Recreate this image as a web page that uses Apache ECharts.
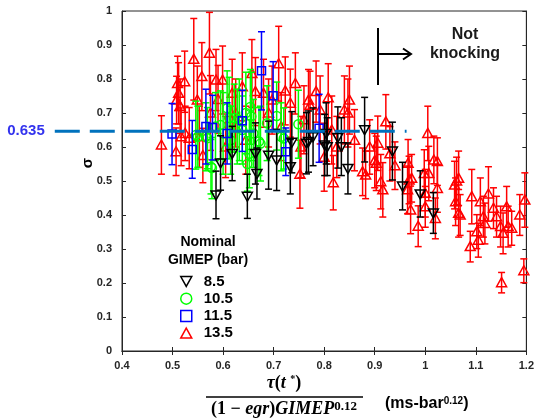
<!DOCTYPE html>
<html><head><meta charset="utf-8">
<script src="https://cdn.jsdelivr.net/npm/echarts@6/dist/echarts.min.js"></script>
<style>html,body{margin:0;padding:0;background:#fff}#c{width:537px;height:419px}</style>
</head><body><div id="c"></div>
<script>
// ---- data: [x, sigma, errorHalfWidth] ----
const xTicks = [0.4, 0.5, 0.6, 0.7, 0.8, 0.9, 1, 1.1, 1.2];
const yTicks = [0, 0.1, 0.2, 0.3, 0.4, 0.5, 0.6, 0.7, 0.8, 0.9, 1];
const seriesNames = ['8.5', '10.5', '11.5', '13.5'];
const meanLabel = '0.635';
const meanLineY = 0.646;
const meanLineX = [0.267, 0.963];

const black85 = [
 [0.586,0.459,0.07],[0.595,0.553,0.08],[0.618,0.581,0.08],[0.648,0.455,0.065],[0.664,0.581,0.09],
 [0.667,0.522,0.075],[0.69,0.576,0.1],[0.706,0.562,0.09],[0.733,0.542,0.08],[0.736,0.614,0.09],
 [0.765,0.611,0.09],[0.769,0.616,0.09],[0.778,0.63,0.085],[0.801,0.606,0.09],[0.804,0.64,0.09],
 [0.806,0.601,0.085],[0.827,0.628,0.09],[0.834,0.601,0.085],[0.847,0.537,0.075],[0.88,0.651,0.095],
 [0.935,0.588,0.085],[0.955,0.485,0.07],[0.99,0.462,0.068],[1.016,0.406,0.06]
];
const green105 = [
 [0.546,0.635,0.1],[0.55,0.63,0.09],[0.566,0.63,0.1],[0.569,0.626,0.09],[0.576,0.542,0.08],
 [0.578,0.538,0.09],[0.585,0.66,0.1],[0.595,0.665,0.1],[0.6,0.64,0.12],[0.608,0.714,0.11],
 [0.612,0.685,0.12],[0.615,0.62,0.1],[0.622,0.685,0.1],[0.628,0.66,0.11],[0.632,0.68,0.12],
 [0.638,0.65,0.1],[0.645,0.7,0.12],[0.648,0.55,0.08],[0.652,0.58,0.1],[0.654,0.718,0.11],
 [0.656,0.69,0.13],[0.66,0.64,0.1],[0.671,0.616,0.1],[0.674,0.61,0.11],[0.687,0.67,0.11],
 [0.706,0.691,0.1],[0.715,0.63,0.1],[0.72,0.625,0.09],[0.749,0.667,0.1]
];
const blue115 = [
 [0.499,0.638,0.09],[0.539,0.593,0.085],[0.566,0.66,0.11],[0.579,0.657,0.095],[0.608,0.64,0.09],
 [0.638,0.677,0.09],[0.676,0.824,0.115],[0.699,0.751,0.1],[0.724,0.586,0.07],[0.79,0.655,0.1]
];
const red135 = [
 [0.478,0.606,0.086],[0.507,0.586,0.07],[0.508,0.738,0.07],[0.51,0.787,0.08],[0.512,0.758,0.09],
 [0.515,0.72,0.08],[0.517,0.63,0.085],[0.524,0.792,0.09],[0.525,0.64,0.08],[0.533,0.626,0.09],
 [0.542,0.858,0.12],[0.549,0.738,0.1],[0.553,0.63,0.09],[0.558,0.807,0.1],[0.56,0.575,0.08],
 [0.573,0.876,0.12],[0.575,0.7,0.11],[0.586,0.797,0.09],[0.59,0.74,0.1],[0.599,0.797,0.1],
 [0.605,0.6,0.09],[0.618,0.758,0.1],[0.625,0.7,0.1],[0.638,0.777,0.1],[0.645,0.62,0.1],
 [0.657,0.816,0.1],[0.664,0.763,0.1],[0.68,0.758,0.1],[0.69,0.7,0.1],[0.697,0.738,0.1],
 [0.71,0.845,0.11],[0.715,0.66,0.1],[0.723,0.765,0.1],[0.733,0.729,0.1],[0.743,0.787,0.09],
 [0.752,0.52,0.1],[0.754,0.6,0.09],[0.76,0.68,0.1],[0.769,0.738,0.09],[0.772,0.723,0.1],
 [0.784,0.763,0.09],[0.792,0.709,0.1],[0.8,0.57,0.1],[0.808,0.745,0.1],[0.815,0.65,0.1],
 [0.818,0.495,0.08],[0.825,0.6,0.09],[0.84,0.709,0.1],[0.85,0.738,0.1],[0.847,0.7,0.1],
 [0.86,0.62,0.09],[0.876,0.527,0.07],[0.882,0.518,0.07],[0.89,0.6,0.08],[0.9,0.56,0.08],
 [0.903,0.552,0.08],[0.906,0.611,0.08],[0.912,0.498,0.08],[0.916,0.474,0.08],[0.922,0.674,0.08],
 [0.93,0.58,0.08],[0.94,0.545,0.07],[0.965,0.474,0.07],[0.966,0.552,0.07],[0.968,0.503,0.07],
 [0.971,0.415,0.07],[0.973,0.508,0.07],[0.986,0.367,0.06],[0.998,0.522,0.07],[1.0,0.464,0.07],
 [1.0,0.424,0.06],[1.005,0.64,0.08],[1.007,0.522,0.08],[1.017,0.562,0.07],[1.02,0.39,0.06],
 [1.024,0.557,0.07],[1.024,0.478,0.07],[1.058,0.488,0.07],[1.06,0.439,0.07],[1.062,0.5,0.07],
 [1.066,0.508,0.08],[1.066,0.405,0.07],[1.069,0.4,0.06],[1.089,0.307,0.045],[1.092,0.454,0.08],
 [1.102,0.351,0.05],[1.105,0.326,0.05],[1.109,0.439,0.07],[1.115,0.395,0.06],[1.118,0.375,0.06],
 [1.125,0.462,0.08],[1.135,0.42,0.06],[1.141,0.395,0.06],[1.149,0.366,0.06],[1.151,0.201,0.03],
 [1.154,0.346,0.06],[1.161,0.424,0.06],[1.164,0.366,0.06],[1.171,0.361,0.05],[1.187,0.4,0.06],
 [1.197,0.444,0.08],[1.195,0.236,0.035]
];

const FONT = 'Liberation Sans, Arial, sans-serif';
const AX = '#262626';

function makeRender(shape, color) {
  return function (params, api) {
    const x = api.value(0), y = api.value(1), e = api.value(2);
    const p = api.coord([x, y]);
    const lo = api.coord([x, y - e]);
    const hi = api.coord([x, y + e]);
    const cap = 3.5, lw = 1.5;
    const ls = { stroke: color, lineWidth: lw, fill: null };
    const ch = [
      { type: 'line', shape: { x1: lo[0], y1: lo[1], x2: hi[0], y2: hi[1] }, style: ls },
      { type: 'line', shape: { x1: lo[0] - cap, y1: lo[1], x2: lo[0] + cap, y2: lo[1] }, style: ls },
      { type: 'line', shape: { x1: hi[0] - cap, y1: hi[1], x2: hi[0] + cap, y2: hi[1] }, style: ls }
    ];
    const ms = { stroke: color, lineWidth: 1.5, fill: 'rgba(0,0,0,0)' };
    const cx = p[0], cy = p[1];
    if (shape === 'tridown') {
      ch.push({ type: 'polygon', shape: { points: [[cx - 5, cy - 4], [cx + 5, cy - 4], [cx, cy + 5]] }, style: ms });
    } else if (shape === 'triup') {
      ch.push({ type: 'polygon', shape: { points: [[cx - 5, cy + 4], [cx + 5, cy + 4], [cx, cy - 5]] }, style: ms });
    } else if (shape === 'circle') {
      ch.push({ type: 'circle', shape: { cx: cx, cy: cy, r: 4.5 }, style: ms });
    } else {
      ch.push({ type: 'rect', shape: { x: cx - 4, y: cy - 4, width: 8, height: 8 }, style: ms });
    }
    return { type: 'group', children: ch };
  };
}

const chart = echarts.init(document.getElementById('c'), null, { renderer: 'canvas' });

const axisCommon = {
  axisLine: { show: true, lineStyle: { color: AX, width: 1 } },
  axisTick: { show: true, inside: true, length: 4, lineStyle: { color: AX } },
  splitLine: { show: false }
};

const staticGraphics = [
  { type: 'text', x: 26, y: 131, style: { text: meanLabel, fill: '#3333ee', font: 'bold 15px ' + FONT, align: 'center', verticalAlign: 'middle' } },
  { type: 'text', x: 88, y: 163, rotation: Math.PI / 2, style: { text: 'σ', fill: '#000', font: 'bold 15px ' + FONT, align: 'center', verticalAlign: 'middle' } },
  { type: 'line', shape: { x1: 378, y1: 28, x2: 378, y2: 85 }, style: { stroke: '#000', lineWidth: 2 } },
  { type: 'line', shape: { x1: 378, y1: 54, x2: 411, y2: 54 }, style: { stroke: '#000', lineWidth: 2 } },
  { type: 'polyline', shape: { points: [[403, 48.5], [411, 54], [403, 59.5]] }, style: { stroke: '#000', lineWidth: 2, fill: null } },
  { type: 'text', x: 465, y: 35, style: { text: 'Not', fill: '#1a1a1a', font: 'bold 16px ' + FONT, align: 'center', verticalAlign: 'middle' } },
  { type: 'text', x: 465, y: 54, style: { text: 'knocking', fill: '#1a1a1a', font: 'bold 16px ' + FONT, align: 'center', verticalAlign: 'middle' } },
  { type: 'text', x: 208, y: 242, style: { text: 'Nominal', fill: '#000', font: 'bold 14px ' + FONT, align: 'center', verticalAlign: 'middle' } },
  { type: 'text', x: 208, y: 260, style: { text: 'GIMEP (bar)', fill: '#000', font: 'bold 14px ' + FONT, align: 'center', verticalAlign: 'middle' } },
  { type: 'text', x: 284, y: 383, style: {
      text: '{i|τ}{u|(}{i|t }{s|*}{u|)}', align: 'center', verticalAlign: 'middle', fill: '#000',
      rich: {
        i: { fontFamily: 'Liberation Serif', fontStyle: 'italic', fontWeight: 'bold', fontSize: 18 },
        u: { fontFamily: 'Liberation Serif', fontWeight: 'bold', fontSize: 18 },
        s: { fontFamily: 'Liberation Serif', fontWeight: 'bold', fontSize: 10, verticalAlign: 'top' }
      } } },
  { type: 'line', shape: { x1: 206, y1: 397, x2: 363, y2: 397 }, style: { stroke: '#000', lineWidth: 1.5 } },
  { type: 'text', x: 284, y: 409, style: {
      text: '{u|(1 − }{i|egr}{u|)}{i|GIMEP}{s|0.12}', align: 'center', verticalAlign: 'middle', fill: '#000',
      rich: {
        i: { fontFamily: 'Liberation Serif', fontStyle: 'italic', fontWeight: 'bold', fontSize: 18 },
        u: { fontFamily: 'Liberation Serif', fontWeight: 'bold', fontSize: 18 },
        s: { fontFamily: 'Liberation Serif', fontWeight: 'bold', fontSize: 13, verticalAlign: 'top' }
      } } },
  { type: 'text', x: 385, y: 404, style: {
      text: '{a|(ms-bar}{s|0.12}{a|)}', align: 'left', verticalAlign: 'middle', fill: '#000',
      rich: {
        a: { fontFamily: FONT, fontWeight: 'bold', fontSize: 16 },
        s: { fontFamily: FONT, fontWeight: 'bold', fontSize: 10, verticalAlign: 'top' }
      } } }
];

chart.setOption({
  animation: false,
  grid: { left: 122, right: 7, top: 11, bottom: 68, containLabel: false, show: true, borderColor: AX, borderWidth: 1, backgroundColor: 'transparent' },
  xAxis: [
    Object.assign({}, axisCommon, { type: 'value', min: xTicks[0], max: xTicks[xTicks.length - 1], interval: 0.1,
      axisLabel: { color: AX, fontFamily: FONT, fontWeight: 'bold', fontSize: 11, margin: 9 } }),
    Object.assign({}, axisCommon, { type: 'value', position: 'top', min: xTicks[0], max: xTicks[xTicks.length - 1], interval: 0.1,
      axisLabel: { show: false } })
  ],
  yAxis: [
    Object.assign({}, axisCommon, { type: 'value', min: yTicks[0], max: yTicks[yTicks.length - 1], interval: 0.1,
      axisLabel: { color: AX, fontFamily: FONT, fontWeight: 'bold', fontSize: 11, margin: 10 } }),
    Object.assign({}, axisCommon, { type: 'value', position: 'right', min: yTicks[0], max: yTicks[yTicks.length - 1], interval: 0.1,
      axisLabel: { show: false } })
  ],
  legend: {
    orient: 'vertical', left: 175, top: 269, itemWidth: 11, itemHeight: 11, itemGap: 2.2,
    textStyle: { fontFamily: FONT, fontWeight: 'bold', fontSize: 15, color: '#000', padding: [0, 0, 0, 7] },
    data: [
      { name: seriesNames[0], icon: 'path://M0,0 L10,0 L5,9 Z', itemStyle: { color: 'rgba(0,0,0,0)', borderColor: '#000', borderWidth: 1.5 } },
      { name: seriesNames[1], icon: 'circle', itemStyle: { color: 'rgba(0,0,0,0)', borderColor: '#00ff00', borderWidth: 1.5 } },
      { name: seriesNames[2], icon: 'rect', itemStyle: { color: 'rgba(0,0,0,0)', borderColor: '#0000ff', borderWidth: 1.5 } },
      { name: seriesNames[3], icon: 'path://M5,0 L10,9 L0,9 Z', itemStyle: { color: 'rgba(0,0,0,0)', borderColor: '#ff0000', borderWidth: 1.5 } }
    ]
  },
  series: [
    { name: seriesNames[3], type: 'custom', renderItem: makeRender('triup', '#ff0000'), data: red135, z: 2, itemStyle: { color: '#ff0000' } },
    { name: seriesNames[1], type: 'custom', renderItem: makeRender('circle', '#00ff00'), data: green105, z: 3, itemStyle: { color: '#00ff00' } },
    { name: seriesNames[2], type: 'custom', renderItem: makeRender('rect', '#0000ff'), data: blue115, z: 4, itemStyle: { color: '#0000ff' } },
    { name: seriesNames[0], type: 'custom', renderItem: makeRender('tridown', '#000000'), data: black85, z: 5, itemStyle: { color: '#000' } }
  ],
  graphic: staticGraphics
});

// mean-sigma dashed line, positioned through the axes' scales (extends past the left axis)
const pA = chart.convertToPixel({ xAxisIndex: 0, yAxisIndex: 0 }, [meanLineX[0], meanLineY]);
const pB = chart.convertToPixel({ xAxisIndex: 0, yAxisIndex: 0 }, [meanLineX[1], meanLineY]);
chart.setOption({
  graphic: staticGraphics.concat([
    { type: 'line', z: 100, silent: true, shape: { x1: pA[0], y1: pA[1], x2: pB[0], y2: pB[1] },
      style: { stroke: '#0072BD', lineWidth: 3, lineDash: [25, 10] } }
  ])
});
</script>
</body></html>
